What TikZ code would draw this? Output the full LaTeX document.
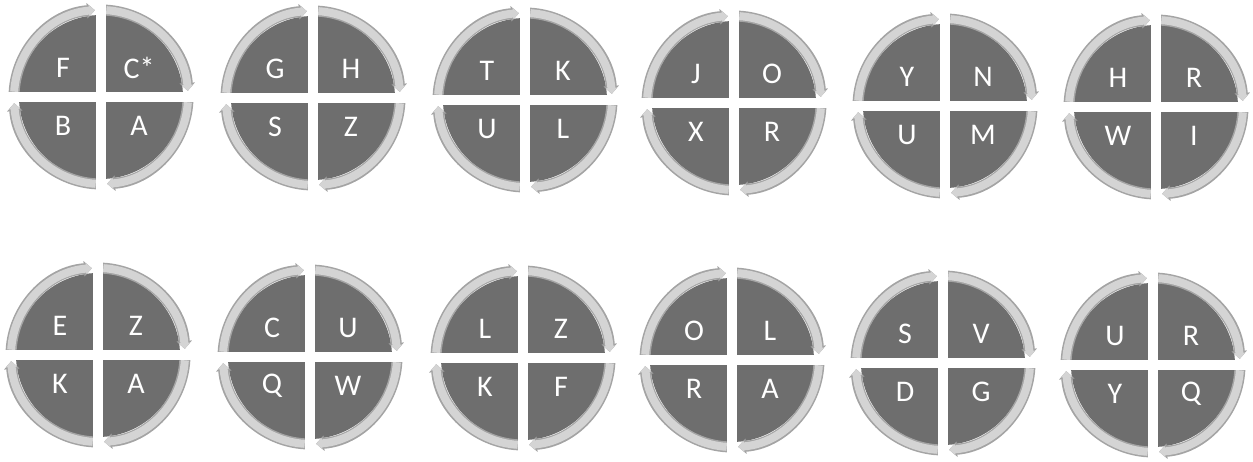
\documentclass[tikz,border=0pt]{standalone}
\usepackage{fontspec}
\setmainfont{Carlito}
\usetikzlibrary{arrows.meta}
\definecolor{diskgray}{HTML}{6E6E6E}
\definecolor{ringlt}{HTML}{D4D4D4}
\definecolor{ringdk}{HTML}{A4A4A4}
\tikzset{
  disk/.style={fill=diskgray},
  gapbar/.style={fill=white},
  ringout/.style={draw=ringdk,line width=11pt,-{Triangle[length=8pt,width=15pt]}},
  ringin/.style={draw=ringlt,line width=8pt,-{Triangle[length=6pt,width=11pt]}},
  lett/.style={text=white,font=\fontsize{30}{30}\selectfont,inner sep=0pt},
}
\begin{document}
\begin{tikzpicture}[x=1pt,y=1pt]
  \useasboundingbox (0,0) rectangle (1253,461);
  % one wheel per entry: number/x/y/top-left/top-right/bottom-left/bottom-right
  \foreach \i/\x/\y/\tl/\tr/\bl/\br in {
    1/101/364/F/C*/B/A,
    2/313/363/G/H/S/Z,
    3/525/361/T/K/U/L,
    4/734/358/J/O/X/R,
    5/945/355/Y/N/U/M,
    6/1156/354/H/R/W/I,
    7/98/106/E/Z/K/A,
    8/310/104/C/U/Q/W,
    9/523/103/L/Z/K/F,
    10/732/101/O/L/R/A,
    11/943/98/S/V/D/G,
    12/1153/96/U/R/Y/Q}{
    \coordinate (w\i) at (\x,\y);
    \fill[disk] (w\i) circle (82);
    \foreach \s in {180,90,0,-90}{
      \draw[ringout] ([shift={(\s-3:87)}]w\i) arc (\s-3:\s-86:87);
      \draw[ringin] ([shift={(\s-3.5:87)}]w\i) arc (\s-3.5:\s-86:87);
    }
    \fill[gapbar] ([shift={(-97,-5)}]w\i) rectangle ([shift={(97,5)}]w\i);
    \fill[gapbar] ([shift={(-5,-97)}]w\i) rectangle ([shift={(5,97)}]w\i);
    \node[lett] (w\i-tl) at ([shift={(-38,29)}]w\i) {\tl};
    \node[lett] (w\i-tr) at ([shift={(38,29)}]w\i) {\tr};
    \node[lett] (w\i-bl) at ([shift={(-38,-29)}]w\i) {\bl};
    \node[lett] (w\i-br) at ([shift={(38,-29)}]w\i) {\br};
  }
\end{tikzpicture}
\end{document}
